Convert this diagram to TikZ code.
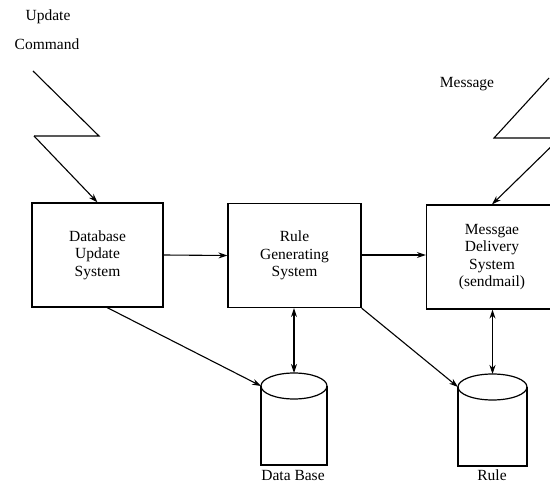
\documentclass[tikz,border=0pt]{standalone}
\usepackage{fontspec}
\setmainfont{Liberation Serif}
\usetikzlibrary{arrows.meta}
\begin{document}
\begin{tikzpicture}[x=1pt,y=-1pt,
  every node/.style={font=\fontsize{15.5}{17.5}\selectfont, inner sep=0pt},
  sysbox/.style={draw, line width=1.2pt, minimum width=131pt, minimum height=104pt, align=center},
  conn/.style={line width=1.1pt, -{Stealth[length=9pt,width=6pt]}},
  dconn/.style={line width=1.1pt, {Stealth[length=9pt,width=6pt]}-{Stealth[length=9pt,width=6pt]}},
  zig/.style={line width=1.1pt},
  cyl/.style={line width=1.2pt}]
\useasboundingbox (0,0) rectangle (550,484);
\clip (0,0) rectangle (550,484);
% labels
\node (upd) at (48,17) {Update};
\node (cmd) at (47,44) {Command};
\node (msg) at (467,84) {Message};
% boxes
\node[sysbox] (dus) at (97.5,255) {Database\\Update\\System};
\node[sysbox, minimum width=133pt] (rgs) at (294.5,255.5) {Rule\\Generating\\System};
\node[sysbox] (mds) at (492,257) {Messgae\\Delivery\\System\\(sendmail)};
% cylinders
\coordinate (dbtop) at (294,373);
\coordinate (dbleft) at (261,386);
\coordinate (rutop) at (492.5,374);
\coordinate (ruleft) at (458,387);
\draw[cyl] (261,386) -- (261,465) -- (327,465) -- (327,386);
\draw[cyl] (294,386) ellipse [x radius=33pt, y radius=13pt];
\draw[cyl] (458,387) -- (458,466) -- (527,466) -- (527,387);
\draw[cyl] (492.5,387) ellipse [x radius=34.5pt, y radius=13pt];
\node (dblabel) at (293,475.5) {Data Base};
\node (rulabel) at (492,475.5) {Rule};
% zigzag inputs
\coordinate (u1) at (33,71);
\coordinate (u2) at (99,136);
\coordinate (u3) at (34,136);
\draw[zig] (u1) -- (u2) -- (u3);
\draw[conn] (u3) -- (dus.north);
\coordinate (m1) at (549,78);
\coordinate (m2) at (494,138);
\coordinate (m3) at (560,138);
\draw[zig] (m1) -- (m2) -- (m3);
\draw[conn] (m3) -- (mds.north);
% connectors
\draw[conn] (dus.east) -- (rgs.west);
\draw[conn] (rgs.east |- dus.east) -- (mds.west |- dus.east);
\coordinate (dusb) at (106,307);
\draw[conn] (dusb) -- (dbleft);
\draw[conn] (rgs.south east) -- (ruleft);
\draw[dconn] (rgs.south -| dbtop) -- (dbtop);
\draw[dconn] (mds.south -| rutop) -- (rutop);
\end{tikzpicture}
\end{document}
